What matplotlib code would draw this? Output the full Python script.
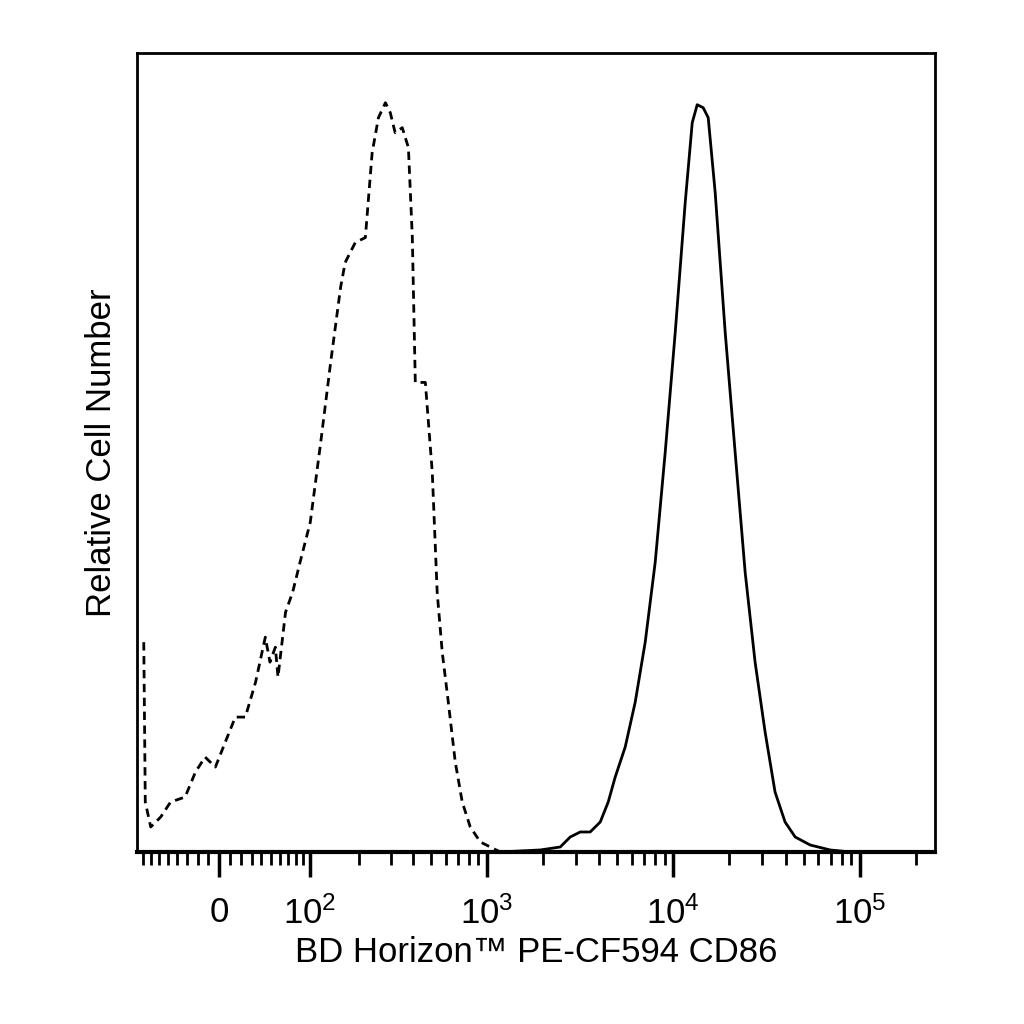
import numpy as np
import matplotlib
matplotlib.use("Agg")
import matplotlib.pyplot as plt

plt.rcParams['font.family'] = ['Liberation Sans', 'DejaVu Sans']
plt.rcParams['mathtext.fontset'] = 'custom'
plt.rcParams['mathtext.rm'] = 'Liberation Sans'
plt.rcParams['mathtext.it'] = 'Liberation Sans'

# Isotype control (dashed)
iso_x = [-79, -77, -70, -58, -47, -32, -22, -13, -3.6, 5.4, 14.6, 24, 34, 44, 49, 55, 58, 67, 76, 86,
         101, 118, 136, 156, 166, 190, 217, 237, 257, 281, 299, 318, 348, 376, 395, 410, 465, 507, 539,
         574, 619, 675, 736, 813, 921, 1042, 1179, 1510, 2476, 10000, 40000, 69400]
iso_y = [640, 800, 825, 815, 800, 795, 770, 755, 765, 740, 715, 715, 680, 635, 660, 645, 675, 610, 590, 560,
         520, 440, 360, 285, 260, 240, 235, 150, 115, 100, 110, 130, 125, 145, 235, 380, 380, 470, 590,
         650, 700, 760, 800, 825, 840, 845, 850, 850, 850, 850, 850, 850]
# Stained (solid)
cd86_x = [1179, 1933, 2476, 2800, 3168, 3582, 4057, 4476, 4880, 5520, 6248, 7068, 7998, 9048, 10240,
          11584, 12635, 13433, 14465, 15391, 16775, 18983, 21462, 24287, 27460, 31076, 35133, 39763,
          45050, 54170, 69400, 88860]
cd86_y = [850, 848, 845, 835, 830, 830, 820, 800, 775, 745, 700, 640, 560, 450, 330, 200, 120, 102, 105,
          115, 190, 330, 450, 570, 660, 730, 790, 820, 835, 843, 848, 850]
# heights read as pixel rows; convert to relative counts
iso_y = [(850 - v) / 750 for v in iso_y]
cd86_y = [(850 - v) / 750 for v in cd86_y]

C = 73.5
fwd = lambda x: np.arcsinh(np.asarray(x, float) / C)
inv = lambda y: C * np.sinh(np.asarray(y, float))

fig = plt.figure(figsize=(10.24, 10.24), dpi=100)
ax = fig.add_axes([0.134, 0.168, 0.779, 0.780])
ax.set_xscale('function', functions=(fwd, inv))
ax.plot(iso_x, iso_y, color='black', lw=2, ls=(0, (3, 2)))
ax.plot(cd86_x, cd86_y, color='black', lw=2)
ax.set_xlim(-88, 253000)
ax.set_ylim(0, 1.066)

major = [0, 100, 1000, 10000, 100000]
ax.set_xticks(major)
ax.set_xticklabels(['0', '10$^2$', '10$^3$', '10$^4$', '10$^5$'], fontsize=25)
minor = list(range(-80, 0, 10)) + list(range(10, 100, 10)) + list(range(200, 1000, 100)) + \
    list(range(2000, 10000, 1000)) + list(range(20000, 100000, 10000)) + [200000]
ax.set_xticks(minor, minor=True)
ax.tick_params(axis='x', which='major', length=18, width=2.5, direction='out', pad=14)
ax.tick_params(axis='x', which='minor', length=9, width=2, direction='out')
ax.set_yticks([])
for s in ax.spines.values():
    s.set_linewidth(2)
ax.spines['bottom'].set_linewidth(3)
ax.set_xlabel('BD Horizon™ PE-CF594 CD86', fontsize=25, labelpad=4)
ax.set_ylabel('Relative Cell Number', fontsize=25, labelpad=14)
fig.savefig('out.png', dpi=100)
